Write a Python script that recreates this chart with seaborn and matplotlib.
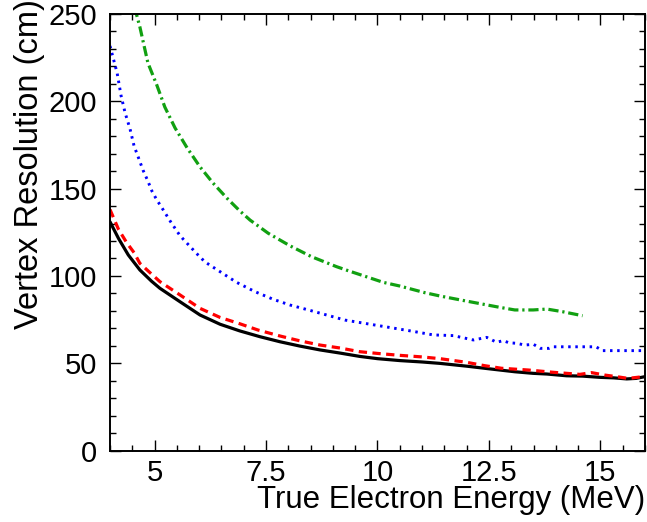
import numpy as np
import pandas as pd
import matplotlib
matplotlib.use("Agg")
import matplotlib.pyplot as plt
from matplotlib.ticker import MultipleLocator, FixedLocator
import seaborn as sns

# ---------------- data ----------------
black_x = [4.0, 4.19, 4.41, 4.67, 4.93, 5.12, 5.57, 6.02, 6.47, 6.91, 7.36, 7.81,
           8.26, 8.71, 9.16, 9.6, 10.0, 10.5, 11.0, 11.4, 12.0, 12.4, 12.74, 13.08,
           13.49, 13.8, 14.24, 14.6, 14.99, 15.3, 15.59, 15.8, 16.0]
black_y = [131, 121.5, 112, 103.4, 97, 92.9, 85.2, 77.6, 72.3, 68.5, 65.2, 62.3,
           59.8, 57.6, 55.8, 53.9, 52.6, 51.5, 50.7, 49.9, 48.3, 47.1, 46.1, 45.1,
           44.2, 43.8, 42.8, 42.6, 41.9, 41.6, 41.0, 41.3, 42.3]

red_x = [4.0, 4.19, 4.37, 4.54, 4.67, 4.9, 5.12, 5.57, 6.02, 6.47, 6.91, 7.32, 7.81,
         8.26, 8.71, 9.16, 9.6, 10.0, 10.5, 11.0, 11.4, 12.0, 12.4, 12.78, 13.38,
         13.94, 14.54, 14.8, 15.1, 15.36, 15.62, 15.96]
red_y = [138, 126.7, 119.2, 113.3, 107.2, 101.8, 96.7, 89.1, 81.4, 76.2, 72.6, 69,
         65.6, 62.8, 60.4, 58.7, 56.6, 55.6, 54.5, 53.6, 52.6, 50.5, 48.6, 47.1, 46.1,
         44.8, 43.6, 44.6, 43.2, 42.3, 41.3, 42.3]

blue_x = [4.0, 4.16, 4.25, 4.34, 4.45, 4.54, 4.65, 4.74, 4.85, 4.94, 5.05, 5.14,
          5.35, 5.55, 5.64, 5.94, 6.13, 6.47, 6.84, 7.25, 7.66, 8.04, 8.45, 8.86,
          9.27, 9.72, 10.24, 10.76, 11.25, 11.7, 12.15, 12.45, 12.67, 12.82, 12.95,
          13.12, 13.3, 13.5, 13.65, 13.85, 13.95, 14.9, 15.05, 16.0]
blue_y = [231.7, 216.2, 203, 193.3, 184.1, 174.4, 166.9, 160.6, 154.3, 148.6, 143.5,
          140, 131.4, 123.8, 121.1, 112.9, 108, 102.4, 96.3, 91, 86.6, 83.3, 80.5,
          77.6, 74.7, 72.8, 70.6, 68.4, 66.2, 65.8, 63.3, 64.8, 62, 62.9, 61.7,
          61.4, 60.4, 60.8, 58.5, 58.5, 59.4, 59.4, 57.2, 57.2]

green_x = [4.55, 4.67, 4.85, 5.05, 5.23, 5.46, 5.73, 6.02, 6.31, 6.62, 6.9, 7.14,
           7.55, 8.04, 8.52, 9.08, 9.34, 10.13, 10.5, 11.06, 11.4, 11.99, 12.74,
           13.08, 13.49, 13.8, 14.15, 14.6]
green_y = [254, 242.6, 222, 209.3, 196.7, 184.7, 173.3, 162.4, 153.2, 144.6, 137.5,
           132, 124.4, 117.2, 111, 105.3, 103, 96.3, 94.2, 90.4, 88.5, 85.6, 82,
           80.5, 80.5, 81, 79.5, 77.2]

x_ticks = [5, 7.5, 10, 12.5, 15]
x_tick_labels = ["5", "7.5", "10", "12.5", "15"]
y_ticks = [0, 50, 100, 150, 200, 250]
y_tick_labels = ["0", "50", "100", "150", "200", "250"]

# ---------------- style ----------------
sns.set_style("ticks")
plt.rcParams["font.family"] = ["Liberation Sans", "DejaVu Sans"]
plt.rcParams.update({"text.color": "black", "axes.labelcolor": "black",
                     "xtick.color": "black", "ytick.color": "black",
                     "axes.edgecolor": "black"})

fig = plt.figure(figsize=(6.47, 5.22), dpi=100)
ax = fig.add_axes([110 / 647, 1 - 450.5 / 522, 535 / 647, 436.5 / 522])

series = [
    (black_x, black_y, dict(color="black", linewidth=2.3, linestyle="-")),
    (red_x, red_y, dict(color="#ff0000", linewidth=2.3, linestyle=(0, (2.6, 1.7)))),
    (blue_x, blue_y, dict(color="#0000ff", linewidth=2.1, linestyle=(0, (0.85, 1.6)))),
    (green_x, green_y, dict(color="#11a011", linewidth=2.3,
                            linestyle=(0, (3.2, 1.2, 0.7, 1.2)))),
]
for xs, ys, kw in series:
    df = pd.DataFrame({"E": xs, "R": ys})
    sns.lineplot(data=df, x="E", y="R", ax=ax, sort=False, estimator=None, **kw)

ax.set_xlim(4, 16)
ax.set_ylim(0, 250)

ax.xaxis.set_major_locator(FixedLocator(x_ticks))
ax.set_xticklabels(x_tick_labels)
ax.xaxis.set_minor_locator(MultipleLocator(0.5))
ax.yaxis.set_major_locator(FixedLocator(y_ticks))
ax.set_yticklabels(y_tick_labels)
ax.yaxis.set_minor_locator(MultipleLocator(10))

ax.tick_params(which="both", direction="in", top=True, right=True,
               color="black", labelcolor="black", width=1.0)
ax.tick_params(which="major", length=8)
ax.tick_params(which="minor", length=4)
ax.tick_params(axis="x", which="major", labelsize=21, pad=6)
ax.tick_params(axis="y", which="major", labelsize=21, pad=9)

for sp in ax.spines.values():
    sp.set_linewidth(1.4)
    sp.set_color("black")

ax.set_xlabel("True Electron Energy (MeV)", fontsize=22.5, ha="right", color="black")
ax.xaxis.set_label_coords(1.0, -0.078)
ax.set_ylabel("Vertex Resolution (cm)", fontsize=23.5, ha="right", color="black")
ax.yaxis.set_label_coords(-0.122, 1.033)

fig.savefig("out.png", dpi=100)
